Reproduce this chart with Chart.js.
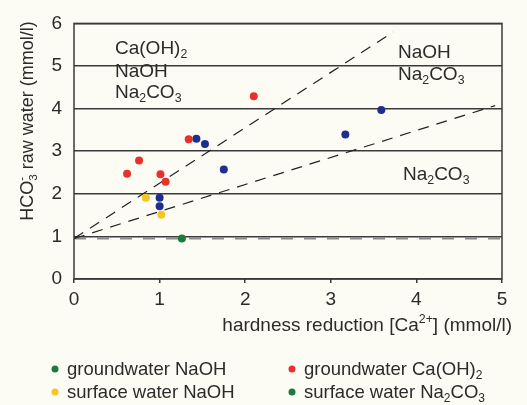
<!DOCTYPE html>
<html>
<head>
<meta charset="utf-8">
<script src="https://cdn.jsdelivr.net/npm/chart.js@4.4.1/dist/chart.umd.min.js"></script>
<style>
  html, body { margin: 0; padding: 0; background: #fcfcf5; }
  canvas { display: block; }
</style>
</head>
<body>
<canvas id="softening" width="527" height="405"></canvas>
<script>
// axis ticks
var xTicks = [0, 1, 2, 3, 4, 5];
var yTicks = [0, 1, 2, 3, 4, 5, 6];

// measured points: hardness reduction (x) vs HCO3- in raw water (y)
var groundwaterCaOH2 = [
  {x: 0.62, y: 2.47}, {x: 0.76, y: 2.78}, {x: 1.01, y: 2.46},
  {x: 1.07, y: 2.28}, {x: 1.34, y: 3.28}, {x: 2.10, y: 4.29}
];
var groundwaterNaOH = [
  {x: 1.43, y: 3.29}, {x: 1.53, y: 3.17}, {x: 1.75, y: 2.57},
  {x: 3.17, y: 3.39}, {x: 3.59, y: 3.97}, {x: 1.00, y: 1.91},
  {x: 1.00, y: 1.71}
];
var surfaceNaOH = [{x: 0.84, y: 1.91}, {x: 1.02, y: 1.51}];
var surfaceNa2CO3 = [{x: 1.26, y: 0.95}];

// dashed boundary lines
var limitCaOH2 = [{x: 0, y: 0.95}, {x: 3.73, y: 5.80}];
var limitNa2CO3 = [{x: 0, y: 0.95}, {x: 4.92, y: 4.07}];
var baseLine = [{x: 0, y: 0.95}, {x: 5, y: 0.95}];

var legendLabels = [
  [['groundwater NaOH', 0]],
  [['groundwater Ca(OH)', 0], ['2', 1]],
  [['surface water NaOH', 0]],
  [['surface water Na', 0], ['2', 1], ['CO', 0], ['3', 1]]
];
var legendColors = ['#1d7a3e', '#e8312b', '#f3c623', '#1d7a3e'];

var FONT = '"Liberation Sans", Arial, sans-serif';
var TXT = '#2b2b2b';

// parts: [text, 0 normal | 1 subscript | 2 superscript | 3 superscript over previous subscript]
function richWidth(ctx, parts, size) {
  var w = 0, last = 0;
  parts.forEach(function (p) {
    ctx.font = (p[1] ? size * 0.65 : size) + 'px ' + FONT;
    var pw = ctx.measureText(p[0]).width;
    if (p[1] === 3) { w += Math.max(0, pw - last); } else { w += pw; }
    last = pw;
  });
  return w;
}
function drawRich(ctx, parts, x, y, size) {
  ctx.textAlign = 'left';
  ctx.textBaseline = 'alphabetic';
  ctx.fillStyle = TXT;
  var lastX = x, lastW = 0;
  parts.forEach(function (p) {
    var s = p[1] ? size * 0.65 : size;
    var dy = p[1] === 1 ? size * 0.22 : (p[1] >= 2 ? -size * 0.42 : 0);
    ctx.font = s + 'px ' + FONT;
    var w = ctx.measureText(p[0]).width;
    if (p[1] === 3) {
      ctx.fillText(p[0], lastX, y + dy);
      x = Math.max(x, lastX + w);
    } else {
      ctx.fillText(p[0], x, y + dy);
      lastX = x;
      x += w;
    }
    lastW = w;
  });
}

var extras = {
  id: 'extras',
  beforeDraw: function (chart) {
    var ctx = chart.ctx;
    ctx.save();
    ctx.fillStyle = '#fcfcf5';
    ctx.fillRect(0, 0, chart.width, chart.height);
    ctx.restore();
  },
  afterDraw: function (chart) {
    var ctx = chart.ctx, a = chart.chartArea;
    ctx.save();
    ctx.strokeStyle = '#3a3a3a';
    ctx.lineWidth = 1.5;
    ctx.strokeRect(a.left, a.top, a.right - a.left, a.bottom - a.top);

    // region labels
    var na2co3 = [['Na', 0], ['2', 1], ['CO', 0], ['3', 1]];
    drawRich(ctx, [['Ca(OH)', 0], ['2', 1]], 115, 54, 19);
    drawRich(ctx, [['NaOH', 0]], 115, 77, 19);
    drawRich(ctx, na2co3, 115, 98, 19);
    drawRich(ctx, [['NaOH', 0]], 398, 58, 19);
    drawRich(ctx, na2co3, 398, 80, 19);
    drawRich(ctx, na2co3, 403, 180, 19);

    // x title, right aligned
    var xt = [['hardness reduction [Ca', 0], ['2+', 2], ['] (mmol/l)', 0]];
    drawRich(ctx, xt, 512 - richWidth(ctx, xt, 19), 331, 19);

    // y title, rotated
    var yt = [['HCO', 0], ['3', 1], ['-', 3], [' raw water (mmol/l)', 0]];
    ctx.save();
    ctx.translate(33, 121);
    ctx.rotate(-Math.PI / 2);
    drawRich(ctx, yt, -richWidth(ctx, yt, 18) / 2, 0, 18);
    ctx.restore();

    // legend
    var cols = [55, 292], rows = [375, 398];
    legendLabels.forEach(function (lab, i) {
      var cx = cols[i % 2], by = rows[Math.floor(i / 2)];
      ctx.fillStyle = legendColors[i];
      ctx.beginPath();
      ctx.arc(cx, by - 6, 3.5, 0, Math.PI * 2);
      ctx.fill();
      drawRich(ctx, lab, cx + 12, by, 18.5);
    });
    ctx.restore();
  }
};

function dots(data, color) {
  return {
    type: 'scatter', data: data,
    backgroundColor: color, borderColor: color,
    pointRadius: 4, pointBorderWidth: 0, pointHoverRadius: 4
  };
}
function dashed(data, color, width, dash) {
  return {
    type: 'line', data: data, borderColor: color, borderWidth: width,
    borderDash: dash, pointRadius: 0, fill: false, tension: 0
  };
}

new Chart(document.getElementById('softening'), {
  type: 'scatter',
  data: {
    datasets: [
      dots(groundwaterCaOH2, '#e8312b'),
      dots(groundwaterNaOH, '#1f2e8e'),
      dots(surfaceNaOH, '#f3c623'),
      dots(surfaceNa2CO3, '#1d7a3e'),
      dashed(limitCaOH2, '#222', 1.2, [11, 8]),
      dashed(limitNa2CO3, '#222', 1.2, [11, 8]),
      dashed(baseLine, '#8a8a8a', 2, [12, 11])
    ]
  },
  options: {
    responsive: false,
    animation: false,
    devicePixelRatio: 1,
    layout: { padding: { left: 0, top: 17, right: 25, bottom: 0 } },
    plugins: { legend: { display: false }, tooltip: { enabled: false } },
    scales: {
      x: {
        type: 'linear', min: 0, max: 5,
        afterBuildTicks: function (s) { s.ticks = xTicks.map(function (v) { return {value: v}; }); },
        afterFit: function (s) { s.height = 126; },
        grid: { drawOnChartArea: false, drawTicks: true, tickLength: 4, color: '#3a3a3a', lineWidth: 1.5 },
        border: { display: false },
        ticks: { color: TXT, padding: 5, font: { family: FONT, size: 19 } }
      },
      y: {
        type: 'linear', min: 0, max: 6,
        afterBuildTicks: function (s) { s.ticks = yTicks.map(function (v) { return {value: v}; }); },
        afterFit: function (s) { s.width = 74; },
        grid: { drawTicks: false, color: '#3a3a3a', lineWidth: 1.5 },
        border: { display: false },
        ticks: { color: TXT, padding: 12, font: { family: FONT, size: 19 } }
      }
    }
  },
  plugins: [extras]
});
</script>
</body>
</html>
